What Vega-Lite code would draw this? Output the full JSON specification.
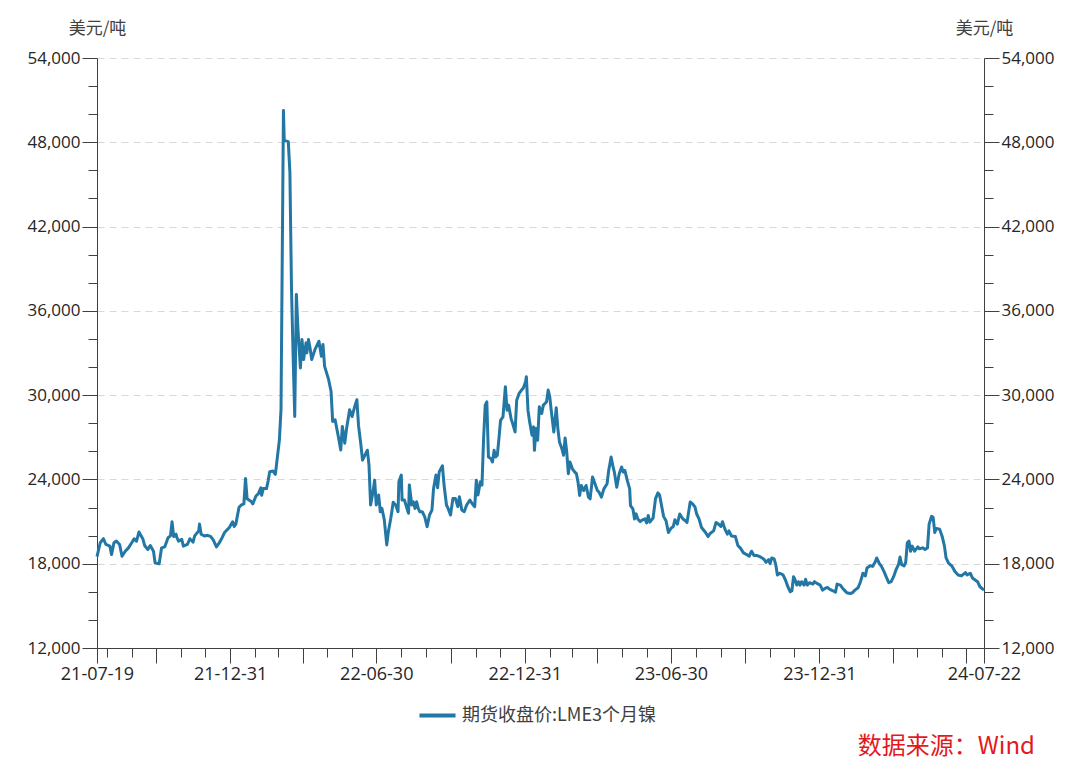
{
  "$schema": "https://vega.github.io/schema/vega-lite/v6.json",
  "width": 887,
  "height": 590,
  "autosize": {"type": "none"},
  "padding": {"left": 97, "top": 58, "right": 96, "bottom": 127},
  "background": "white",
  "config": {
    "font": "Open Sans, Noto Sans CJK SC",
    "view": {"stroke": null},
    "axis": {"domainColor": "#404040", "tickColor": "#404040", "labelColor": "#262626", "tickWidth": 1, "domainWidth": 1}
  },
  "title": {"text": "数据来源：Wind", "orient": "bottom", "anchor": "end", "frame": "group", "color": "#e3191c", "fontSize": 24, "fontWeight": "normal", "font": "Noto Sans CJK SC", "offset": 10, "dx": 51},
  "data": {"values": [
    {"d":"2021-07-19","v":18500},{"d":"2021-07-23","v":19490},{"d":"2021-07-27","v":19780},{"d":"2021-07-30","v":19370},
    {"d":"2021-08-04","v":19250},{"d":"2021-08-06","v":18650},{"d":"2021-08-09","v":19490},{"d":"2021-08-12","v":19610},
    {"d":"2021-08-16","v":19370},{"d":"2021-08-19","v":18530},{"d":"2021-08-23","v":18890},{"d":"2021-08-27","v":19130},
    {"d":"2021-08-31","v":19490},{"d":"2021-09-03","v":19780},{"d":"2021-09-06","v":19610},{"d":"2021-09-09","v":20260},
    {"d":"2021-09-13","v":19850},{"d":"2021-09-14","v":19730},{"d":"2021-09-16","v":19300},{"d":"2021-09-20","v":19010},
    {"d":"2021-09-23","v":19300},{"d":"2021-09-27","v":18890},{"d":"2021-09-29","v":18050},{"d":"2021-10-04","v":18000},
    {"d":"2021-10-07","v":19130},{"d":"2021-10-11","v":19200},{"d":"2021-10-15","v":19850},{"d":"2021-10-18","v":19980},
    {"d":"2021-10-20","v":20990},{"d":"2021-10-22","v":19930},{"d":"2021-10-25","v":20100},{"d":"2021-10-26","v":19850},
    {"d":"2021-10-28","v":19610},{"d":"2021-11-01","v":19730},{"d":"2021-11-03","v":19250},{"d":"2021-11-08","v":19370},
    {"d":"2021-11-11","v":19780},{"d":"2021-11-15","v":19540},{"d":"2021-11-17","v":19980},{"d":"2021-11-22","v":20340},
    {"d":"2021-11-23","v":20820},{"d":"2021-11-25","v":20100},{"d":"2021-11-29","v":19980},{"d":"2021-12-03","v":20020},
    {"d":"2021-12-07","v":19930},{"d":"2021-12-10","v":19690},{"d":"2021-12-14","v":19200},{"d":"2021-12-17","v":19440},
    {"d":"2021-12-21","v":19850},{"d":"2021-12-24","v":20220},{"d":"2021-12-30","v":20580},{"d":"2022-01-03","v":20990},
    {"d":"2022-01-05","v":20650},{"d":"2022-01-07","v":20820},{"d":"2022-01-11","v":22020},{"d":"2022-01-14","v":22190},
    {"d":"2022-01-17","v":22260},{"d":"2022-01-19","v":24070},{"d":"2022-01-21","v":22620},{"d":"2022-01-26","v":22430},
    {"d":"2022-01-28","v":22260},{"d":"2022-02-01","v":22820},{"d":"2022-02-04","v":22990},{"d":"2022-02-07","v":23400},
    {"d":"2022-02-08","v":22870},{"d":"2022-02-10","v":23350},{"d":"2022-02-14","v":23350},{"d":"2022-02-16","v":23880},
    {"d":"2022-02-18","v":24550},{"d":"2022-02-22","v":24600},{"d":"2022-02-25","v":24360},{"d":"2022-03-02","v":26820},
    {"d":"2022-03-04","v":29000},{"d":"2022-03-07","v":50260},{"d":"2022-03-08","v":48120},{"d":"2022-03-10","v":48100},
    {"d":"2022-03-13","v":48050},{"d":"2022-03-15","v":45860},{"d":"2022-03-17","v":37530},{"d":"2022-03-19","v":32770},
    {"d":"2022-03-21","v":28480},{"d":"2022-03-23","v":37170},{"d":"2022-03-25","v":34670},{"d":"2022-03-28","v":31940},
    {"d":"2022-03-30","v":33960},{"d":"2022-04-01","v":32530},{"d":"2022-04-04","v":33720},{"d":"2022-04-05","v":33010},
    {"d":"2022-04-07","v":33960},{"d":"2022-04-09","v":33360},{"d":"2022-04-11","v":32530},{"d":"2022-04-15","v":33240},
    {"d":"2022-04-20","v":33840},{"d":"2022-04-23","v":32770},{"d":"2022-04-25","v":33600},{"d":"2022-04-27","v":32050},
    {"d":"2022-05-02","v":31100},{"d":"2022-05-05","v":30270},{"d":"2022-05-07","v":28130},{"d":"2022-05-10","v":28250},
    {"d":"2022-05-14","v":27060},{"d":"2022-05-17","v":26100},{"d":"2022-05-19","v":27770},{"d":"2022-05-22","v":26580},
    {"d":"2022-05-24","v":27530},{"d":"2022-05-28","v":28960},{"d":"2022-05-31","v":28480},{"d":"2022-06-04","v":29320},
    {"d":"2022-06-06","v":29670},{"d":"2022-06-08","v":27860},{"d":"2022-06-11","v":26440},{"d":"2022-06-13","v":25370},
    {"d":"2022-06-16","v":25730},{"d":"2022-06-19","v":26080},{"d":"2022-06-21","v":25020},{"d":"2022-06-23","v":22180},
    {"d":"2022-06-26","v":23120},{"d":"2022-06-28","v":23950},{"d":"2022-06-30","v":22180},{"d":"2022-07-03","v":22890},
    {"d":"2022-07-05","v":21700},{"d":"2022-07-07","v":21940},{"d":"2022-07-10","v":21110},{"d":"2022-07-13","v":19340},
    {"d":"2022-07-15","v":20280},{"d":"2022-07-18","v":21230},{"d":"2022-07-21","v":22370},{"d":"2022-07-24","v":22180},
    {"d":"2022-07-27","v":21700},{"d":"2022-07-28","v":23830},{"d":"2022-07-31","v":24310},{"d":"2022-08-01","v":22530},
    {"d":"2022-08-04","v":22530},{"d":"2022-08-07","v":21940},{"d":"2022-08-09","v":21590},{"d":"2022-08-10","v":23600},
    {"d":"2022-08-13","v":22180},{"d":"2022-08-15","v":22410},{"d":"2022-08-17","v":21940},{"d":"2022-08-19","v":22410},
    {"d":"2022-08-21","v":21940},{"d":"2022-08-23","v":21700},{"d":"2022-08-26","v":21700},{"d":"2022-08-29","v":21350},
    {"d":"2022-09-01","v":20640},{"d":"2022-09-04","v":21470},{"d":"2022-09-07","v":21820},{"d":"2022-09-09","v":23360},
    {"d":"2022-09-12","v":24310},{"d":"2022-09-14","v":23400},{"d":"2022-09-16","v":24540},{"d":"2022-09-20","v":24970},
    {"d":"2022-09-22","v":23600},{"d":"2022-09-25","v":22180},{"d":"2022-09-27","v":21940},{"d":"2022-09-30","v":21470},
    {"d":"2022-10-03","v":22650},{"d":"2022-10-06","v":22650},{"d":"2022-10-09","v":22060},{"d":"2022-10-11","v":22770},
    {"d":"2022-10-14","v":21820},{"d":"2022-10-17","v":21700},{"d":"2022-10-20","v":22180},{"d":"2022-10-24","v":22530},
    {"d":"2022-10-28","v":22180},{"d":"2022-10-30","v":22060},{"d":"2022-11-01","v":23950},{"d":"2022-11-03","v":22890},
    {"d":"2022-11-06","v":23830},{"d":"2022-11-08","v":23600},{"d":"2022-11-10","v":26910},{"d":"2022-11-12","v":29280},
    {"d":"2022-11-14","v":29520},{"d":"2022-11-16","v":25600},{"d":"2022-11-19","v":25480},{"d":"2022-11-21","v":25240},
    {"d":"2022-11-23","v":26070},{"d":"2022-11-25","v":25600},{"d":"2022-11-27","v":25720},{"d":"2022-11-29","v":26910},
    {"d":"2022-12-01","v":28210},{"d":"2022-12-04","v":28450},{"d":"2022-12-07","v":30600},{"d":"2022-12-09","v":28930},
    {"d":"2022-12-11","v":29290},{"d":"2022-12-14","v":28330},{"d":"2022-12-16","v":27980},{"d":"2022-12-19","v":27380},
    {"d":"2022-12-21","v":29640},{"d":"2022-12-24","v":30120},{"d":"2022-12-27","v":30360},{"d":"2022-12-29","v":30480},
    {"d":"2023-01-01","v":30950},{"d":"2023-01-02","v":31310},{"d":"2023-01-04","v":28930},{"d":"2023-01-06","v":28100},
    {"d":"2023-01-09","v":27140},{"d":"2023-01-11","v":27740},{"d":"2023-01-12","v":26070},{"d":"2023-01-14","v":27620},
    {"d":"2023-01-16","v":26790},{"d":"2023-01-18","v":29170},{"d":"2023-01-21","v":28690},{"d":"2023-01-23","v":29290},
    {"d":"2023-01-25","v":29400},{"d":"2023-01-27","v":29520},{"d":"2023-01-29","v":30360},{"d":"2023-01-31","v":29880},
    {"d":"2023-02-02","v":28810},{"d":"2023-02-05","v":27380},{"d":"2023-02-08","v":29100},{"d":"2023-02-10","v":27620},
    {"d":"2023-02-12","v":26670},{"d":"2023-02-15","v":26190},{"d":"2023-02-17","v":25720},{"d":"2023-02-19","v":26950},
    {"d":"2023-02-21","v":25950},{"d":"2023-02-23","v":24410},{"d":"2023-02-25","v":25240},{"d":"2023-02-28","v":24760},
    {"d":"2023-03-03","v":24520},{"d":"2023-03-05","v":24410},{"d":"2023-03-07","v":23810},{"d":"2023-03-09","v":22860},
    {"d":"2023-03-11","v":23570},{"d":"2023-03-14","v":23210},{"d":"2023-03-17","v":23570},{"d":"2023-03-20","v":22740},
    {"d":"2023-03-22","v":22620},{"d":"2023-03-25","v":24170},{"d":"2023-03-28","v":23690},{"d":"2023-03-31","v":23210},
    {"d":"2023-04-02","v":23100},{"d":"2023-04-05","v":22740},{"d":"2023-04-08","v":23330},{"d":"2023-04-12","v":23690},
    {"d":"2023-04-14","v":24640},{"d":"2023-04-17","v":25600},{"d":"2023-04-19","v":25000},{"d":"2023-04-21","v":24520},
    {"d":"2023-04-24","v":23450},{"d":"2023-04-27","v":24410},{"d":"2023-04-30","v":24880},{"d":"2023-05-02","v":24520},
    {"d":"2023-05-04","v":24640},{"d":"2023-05-07","v":23930},{"d":"2023-05-10","v":23330},{"d":"2023-05-11","v":22140},
    {"d":"2023-05-14","v":21900},{"d":"2023-05-16","v":21190},{"d":"2023-05-18","v":21550},{"d":"2023-05-20","v":21190},
    {"d":"2023-05-23","v":21000},{"d":"2023-05-26","v":21120},{"d":"2023-05-29","v":21190},{"d":"2023-05-31","v":20900},
    {"d":"2023-06-02","v":21430},{"d":"2023-06-04","v":20960},{"d":"2023-06-08","v":21250},{"d":"2023-06-11","v":22630},
    {"d":"2023-06-14","v":23040},{"d":"2023-06-16","v":22900},{"d":"2023-06-21","v":21370},{"d":"2023-06-24","v":21060},
    {"d":"2023-06-27","v":20220},{"d":"2023-06-30","v":20510},{"d":"2023-07-03","v":20650},{"d":"2023-07-05","v":21130},
    {"d":"2023-07-08","v":20820},{"d":"2023-07-11","v":21540},{"d":"2023-07-15","v":21180},{"d":"2023-07-18","v":21060},
    {"d":"2023-07-20","v":20940},{"d":"2023-07-24","v":22390},{"d":"2023-07-27","v":22260},{"d":"2023-07-30","v":22020},
    {"d":"2023-08-01","v":21540},{"d":"2023-08-04","v":21180},{"d":"2023-08-07","v":20580},{"d":"2023-08-12","v":20220},
    {"d":"2023-08-15","v":19930},{"d":"2023-08-18","v":20170},{"d":"2023-08-22","v":20340},{"d":"2023-08-25","v":20940},
    {"d":"2023-08-28","v":20820},{"d":"2023-08-31","v":20650},{"d":"2023-09-02","v":20990},{"d":"2023-09-05","v":20460},
    {"d":"2023-09-08","v":20100},{"d":"2023-09-10","v":20340},{"d":"2023-09-13","v":19980},{"d":"2023-09-18","v":19930},
    {"d":"2023-09-21","v":19300},{"d":"2023-09-24","v":19130},{"d":"2023-09-28","v":18770},{"d":"2023-10-02","v":18650},
    {"d":"2023-10-05","v":18530},{"d":"2023-10-08","v":18890},{"d":"2023-10-11","v":18580},{"d":"2023-10-15","v":18580},
    {"d":"2023-10-19","v":18480},{"d":"2023-10-23","v":18340},{"d":"2023-10-26","v":18100},{"d":"2023-10-29","v":18290},
    {"d":"2023-10-31","v":18000},{"d":"2023-11-02","v":18410},{"d":"2023-11-05","v":18340},{"d":"2023-11-07","v":17930},
    {"d":"2023-11-09","v":17200},{"d":"2023-11-12","v":17320},{"d":"2023-11-16","v":17200},{"d":"2023-11-19","v":16840},
    {"d":"2023-11-22","v":16360},{"d":"2023-11-25","v":16000},{"d":"2023-11-27","v":16070},{"d":"2023-11-29","v":17080},
    {"d":"2023-12-01","v":16840},{"d":"2023-12-03","v":16480},{"d":"2023-12-05","v":16720},{"d":"2023-12-07","v":16480},
    {"d":"2023-12-09","v":16720},{"d":"2023-12-12","v":16480},{"d":"2023-12-14","v":16890},{"d":"2023-12-16","v":16480},
    {"d":"2023-12-19","v":16650},{"d":"2023-12-23","v":16550},{"d":"2023-12-25","v":16720},{"d":"2023-12-28","v":16600},
    {"d":"2024-01-01","v":16480},{"d":"2024-01-04","v":16120},{"d":"2024-01-07","v":16240},{"d":"2024-01-10","v":16310},
    {"d":"2024-01-13","v":16170},{"d":"2024-01-17","v":16070},{"d":"2024-01-20","v":15970},{"d":"2024-01-22","v":16550},
    {"d":"2024-01-26","v":16480},{"d":"2024-01-29","v":16240},{"d":"2024-01-31","v":16120},{"d":"2024-02-03","v":15930},
    {"d":"2024-02-07","v":15880},{"d":"2024-02-10","v":15930},{"d":"2024-02-13","v":16120},{"d":"2024-02-17","v":16290},
    {"d":"2024-02-20","v":16720},{"d":"2024-02-23","v":17320},{"d":"2024-02-26","v":17130},{"d":"2024-02-28","v":17690},
    {"d":"2024-03-03","v":17850},{"d":"2024-03-06","v":17810},{"d":"2024-03-09","v":18100},{"d":"2024-03-11","v":18410},
    {"d":"2024-03-14","v":18050},{"d":"2024-03-17","v":17810},{"d":"2024-03-20","v":17450},{"d":"2024-03-23","v":17040},
    {"d":"2024-03-26","v":16650},{"d":"2024-03-29","v":16720},{"d":"2024-04-01","v":17080},{"d":"2024-04-04","v":17570},
    {"d":"2024-04-07","v":17930},{"d":"2024-04-09","v":18480},{"d":"2024-04-11","v":17930},{"d":"2024-04-14","v":17850},
    {"d":"2024-04-16","v":18100},{"d":"2024-04-18","v":19490},{"d":"2024-04-20","v":19610},{"d":"2024-04-22","v":18890},
    {"d":"2024-04-24","v":19250},{"d":"2024-04-27","v":18890},{"d":"2024-05-01","v":19200},{"d":"2024-05-03","v":19060},
    {"d":"2024-05-07","v":19130},{"d":"2024-05-10","v":19010},{"d":"2024-05-13","v":19130},{"d":"2024-05-15","v":20820},
    {"d":"2024-05-18","v":21370},{"d":"2024-05-20","v":21300},{"d":"2024-05-22","v":20220},{"d":"2024-05-24","v":20510},
    {"d":"2024-05-28","v":20460},{"d":"2024-05-31","v":19980},{"d":"2024-06-03","v":19250},{"d":"2024-06-05","v":18410},
    {"d":"2024-06-08","v":18050},{"d":"2024-06-12","v":17850},{"d":"2024-06-16","v":17450},{"d":"2024-06-20","v":17200},
    {"d":"2024-06-24","v":17130},{"d":"2024-06-29","v":17370},{"d":"2024-07-01","v":17200},{"d":"2024-07-05","v":17320},
    {"d":"2024-07-08","v":16960},{"d":"2024-07-11","v":16840},{"d":"2024-07-14","v":16720},{"d":"2024-07-17","v":16360},
    {"d":"2024-07-22","v":16120}
  ]},
  "layer": [
    {
      "mark": {"type": "line", "strokeWidth": 3, "strokeJoin": "round"},
      "encoding": {
        "x": {"field": "d", "type": "temporal",
          "scale": {"type": "utc", "nice": false, "domain": [{"year": 2021, "month": 7, "date": 19, "utc": true}, {"year": 2024, "month": 7, "date": 22, "utc": true}]},
          "axis": {"orient": "bottom", "title": null, "grid": false, "format": "%y-%m-%d", "tickSize": 15, "labelPadding": 2, "labelFontSize": 18, "labelOverlap": false, "labelFlush": false, "labelBound": false,
            "values": [
              {"year": 2021, "month": 7, "date": 19, "utc": true}, {"year": 2021, "month": 9, "date": 30, "utc": true},
              {"year": 2021, "month": 12, "date": 31, "utc": true}, {"year": 2022, "month": 3, "date": 31, "utc": true},
              {"year": 2022, "month": 6, "date": 30, "utc": true}, {"year": 2022, "month": 9, "date": 30, "utc": true},
              {"year": 2022, "month": 12, "date": 31, "utc": true}, {"year": 2023, "month": 3, "date": 31, "utc": true},
              {"year": 2023, "month": 6, "date": 30, "utc": true}, {"year": 2023, "month": 9, "date": 30, "utc": true},
              {"year": 2023, "month": 12, "date": 31, "utc": true}, {"year": 2024, "month": 3, "date": 31, "utc": true},
              {"year": 2024, "month": 6, "date": 30, "utc": true}, {"year": 2024, "month": 7, "date": 22, "utc": true}
            ],
            "labelExpr": "indexof(['21-07-19','21-12-31','22-06-30','22-12-31','23-06-30','23-12-31','24-07-22'], datum.label) >= 0 ? datum.label : ''"}},
        "y": {"field": "v", "type": "quantitative",
          "scale": {"domain": [12000, 54000], "nice": false, "zero": false},
          "axis": {"orient": "left", "values": [12000, 18000, 24000, 30000, 36000, 42000, 48000, 54000], "format": ",d", "tickSize": 15, "labelPadding": 2, "labelFontSize": 17,
            "grid": true, "gridDash": [7, 5], "gridColor": "#d9d9d9", "gridWidth": 1,
            "title": "美元/吨", "titleAngle": 0, "titleX": 0, "titleY": -30, "titleAlign": "center", "titleBaseline": "middle", "titleFontSize": 17, "titleFontWeight": "normal", "titleColor": "#404040", "titleFont": "Noto Sans CJK SC"}},
        "color": {"datum": "期货收盘价:LME3个月镍", "scale": {"range": ["#2377a4"]},
          "legend": {"orient": "none", "legendX": 320, "legendY": 637, "title": null, "symbolType": "stroke", "symbolStrokeWidth": 4, "symbolSize": 1300, "labelFontSize": 18, "labelLimit": 0, "labelColor": "#404040", "labelFont": "Noto Sans CJK SC"}}
      }
    },
    {
      "mark": {"type": "line", "opacity": 0},
      "encoding": {
        "x": {"field": "d", "type": "temporal",
          "axis": {"orient": "bottom", "title": null, "grid": false, "labels": false, "domain": false, "tickSize": 9,
            "values": [
              {"year": 2021, "month": 7, "date": 31, "utc": true}, {"year": 2021, "month": 8, "date": 31, "utc": true},
              {"year": 2021, "month": 10, "date": 31, "utc": true}, {"year": 2021, "month": 11, "date": 30, "utc": true},
              {"year": 2022, "month": 1, "date": 31, "utc": true}, {"year": 2022, "month": 2, "date": 28, "utc": true},
              {"year": 2022, "month": 4, "date": 30, "utc": true}, {"year": 2022, "month": 5, "date": 31, "utc": true},
              {"year": 2022, "month": 7, "date": 31, "utc": true}, {"year": 2022, "month": 8, "date": 31, "utc": true},
              {"year": 2022, "month": 10, "date": 31, "utc": true}, {"year": 2022, "month": 11, "date": 30, "utc": true},
              {"year": 2023, "month": 1, "date": 31, "utc": true}, {"year": 2023, "month": 2, "date": 28, "utc": true},
              {"year": 2023, "month": 4, "date": 30, "utc": true}, {"year": 2023, "month": 5, "date": 31, "utc": true},
              {"year": 2023, "month": 7, "date": 31, "utc": true}, {"year": 2023, "month": 8, "date": 31, "utc": true},
              {"year": 2023, "month": 10, "date": 31, "utc": true}, {"year": 2023, "month": 11, "date": 30, "utc": true},
              {"year": 2024, "month": 1, "date": 31, "utc": true}, {"year": 2024, "month": 2, "date": 29, "utc": true},
              {"year": 2024, "month": 4, "date": 30, "utc": true}, {"year": 2024, "month": 5, "date": 31, "utc": true}
            ]}},
        "y": {"field": "v", "type": "quantitative",
          "axis": {"orient": "left", "title": null, "grid": false, "labels": false, "domain": false, "tickSize": 9,
            "values": [14000, 16000, 20000, 22000, 26000, 28000, 32000, 34000, 38000, 40000, 44000, 46000, 50000, 52000]}}
      }
    },
    {
      "mark": {"type": "line", "opacity": 0},
      "encoding": {
        "x": {"field": "d", "type": "temporal", "axis": null},
        "y": {"field": "v", "type": "quantitative",
          "axis": {"orient": "right", "values": [12000, 18000, 24000, 30000, 36000, 42000, 48000, 54000], "format": ",d", "tickSize": 15, "labelPadding": 2, "labelFontSize": 17, "grid": false,
            "title": "美元/吨", "titleAngle": 0, "titleX": 0, "titleY": -30, "titleAlign": "center", "titleBaseline": "middle", "titleFontSize": 17, "titleFontWeight": "normal", "titleColor": "#404040", "titleFont": "Noto Sans CJK SC"}}
      }
    },
    {
      "mark": {"type": "line", "opacity": 0},
      "encoding": {
        "x": {"field": "d", "type": "temporal", "axis": null},
        "y": {"field": "v", "type": "quantitative",
          "axis": {"orient": "right", "title": null, "grid": false, "labels": false, "domain": false, "tickSize": 9,
            "values": [14000, 16000, 20000, 22000, 26000, 28000, 32000, 34000, 38000, 40000, 44000, 46000, 50000, 52000]}}
      }
    }
  ],
  "resolve": {"axis": {"x": "independent", "y": "independent"}}
}
